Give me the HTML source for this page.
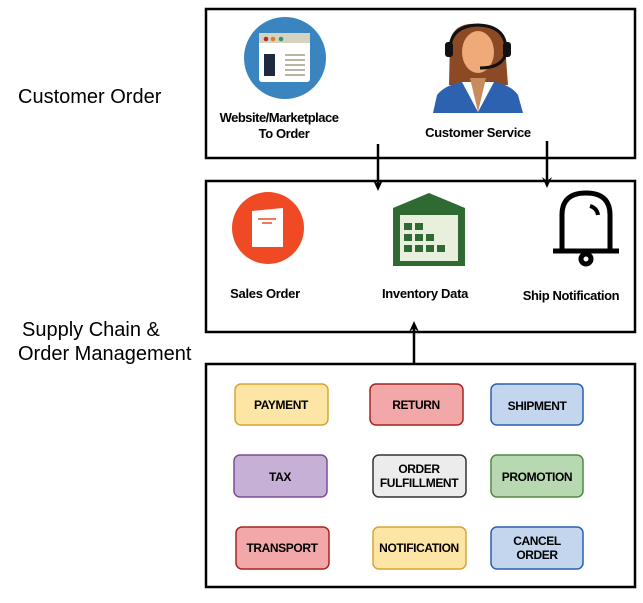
<!DOCTYPE html>
<html><head><style>
body{margin:0;background:#fff;width:643px;height:598px;overflow:hidden}
svg text{font-family:"Liberation Sans",sans-serif}
</style></head><body>
<svg width="643" height="598" viewBox="0 0 643 598" xmlns="http://www.w3.org/2000/svg">
<g fill="none" stroke="#000" stroke-width="2.5">
<rect x="206" y="9" width="429" height="149"/>
<rect x="206" y="181" width="429" height="151"/>
<rect x="206" y="364" width="429" height="223"/>
</g>
<g stroke="#000" stroke-width="2.5">
<line x1="378" y1="144" x2="378" y2="188"/>
<line x1="547" y1="141" x2="547" y2="185"/>
<line x1="414" y1="364" x2="414" y2="324"/>
</g>
<path d="M373,180 L378,191 L383,180 L378,184Z M542,177 L547,188 L552,177 L547,181Z M409,332 L414,321 L419,332 L414,328Z"/>
<text x="18" y="103" font-size="20">Customer Order</text>
<text x="22" y="336" font-size="20">Supply Chain &amp;</text>
<text x="18" y="360" font-size="20">Order Management</text>
<circle cx="285" cy="58" r="41" fill="#3a85bf"/>
<rect x="259" y="33" width="51" height="49" rx="3" fill="#fff"/>
<rect x="259" y="33" width="51" height="10" fill="#d6d2c0"/>
<circle cx="266" cy="39" r="2.3" fill="#b32b2b"/><circle cx="273" cy="39" r="2.3" fill="#e07b2b"/><circle cx="281" cy="39" r="2.3" fill="#2b9a76"/>
<rect x="264" y="54" width="11" height="22" fill="#1d2a3f"/>
<g stroke="#b8b5a2" stroke-width="2"><line x1="285" y1="55" x2="305" y2="55"/><line x1="285" y1="60" x2="305" y2="60"/><line x1="285" y1="65" x2="305" y2="65"/><line x1="285" y1="70" x2="305" y2="70"/><line x1="285" y1="75" x2="305" y2="75"/></g>
<path d="M450,40 Q455,22 478,24 Q502,24 505,45 L508,85 L449,85 Z" fill="#8b4a23"/>
<ellipse cx="478" cy="52" rx="16" ry="21" fill="#f0aa7a"/>
<path d="M433,113 L437,95 Q445,85 462,82 L478,110 L494,82 Q511,85 518,95 L523,113 Z" fill="#2d62b0"/>
<path d="M462,82 L478,112 L494,82 Z" fill="#fff"/>
<path d="M470,78 L478,112 L486,78 Z" fill="#c98a5c"/>
<path d="M450,50 Q450,26 478,25 Q506,26 506,50" fill="none" stroke="#111" stroke-width="3"/>
<rect x="445" y="42" width="8" height="15" rx="3" fill="#111"/><rect x="503" y="42" width="8" height="15" rx="3" fill="#111"/>
<path d="M505,56 Q500,68 480,68" fill="none" stroke="#111" stroke-width="3"/>
<text x="279" y="122" font-size="13" font-weight="bold" text-anchor="middle" letter-spacing="-0.5">Website/Marketplace</text>
<text x="284" y="138" font-size="13" font-weight="bold" text-anchor="middle" letter-spacing="-0.4">To Order</text>
<text x="478" y="137" font-size="13" font-weight="bold" text-anchor="middle" letter-spacing="-0.3">Customer Service</text>
<circle cx="268" cy="228" r="36" fill="#ef4a23"/>
<path d="M252,211 L283,208 L283,247 L252,247 Z" fill="#fff"/>
<line x1="258" y1="219" x2="276" y2="219" stroke="#ef4a23" stroke-width="1.5"/><line x1="262" y1="223" x2="272" y2="223" stroke="#ef4a23" stroke-width="1.5"/>
<path d="M393,208 L429,193 L465,208 L465,266 L393,266 Z" fill="#2f6a32"/>
<rect x="400" y="215" width="58" height="46" fill="#e8efdc"/>
<g fill="#2f6a32">
<rect x="404" y="223" width="8" height="7"/><rect x="415" y="223" width="8" height="7"/>
<rect x="404" y="234" width="8" height="7"/><rect x="415" y="234" width="8" height="7"/><rect x="426" y="234" width="8" height="7"/>
<rect x="404" y="245" width="8" height="7"/><rect x="415" y="245" width="8" height="7"/><rect x="426" y="245" width="8" height="7"/><rect x="437" y="245" width="8" height="7"/>
</g>
<g fill="none" stroke="#000" stroke-width="5">
<path d="M562,250 L562,215 Q562,193 586,193 Q610,193 610,215 L610,250"/>
<line x1="553" y1="251" x2="619" y2="251"/>
<circle cx="586" cy="259" r="5"/>
<path d="M590,206 Q597,208 598,215" stroke-width="4"/>
</g>
<text x="265" y="298" font-size="13" font-weight="bold" text-anchor="middle" letter-spacing="-0.3">Sales Order</text>
<text x="425" y="298" font-size="13" font-weight="bold" text-anchor="middle" letter-spacing="-0.3">Inventory Data</text>
<text x="571" y="300" font-size="13" font-weight="bold" text-anchor="middle" letter-spacing="-0.4">Ship Notification</text>
<g stroke-width="1.5">
<rect x="235" y="384" width="93" height="41" rx="6" fill="#fde6a5" stroke="#d6a530"/>
<rect x="370" y="384" width="93" height="41" rx="6" fill="#f2a8a8" stroke="#a82323"/>
<rect x="491" y="384" width="92" height="41" rx="6" fill="#c3d6ee" stroke="#2d5fb0"/>
<rect x="234" y="455" width="93" height="42" rx="6" fill="#c7b0d6" stroke="#7a4e99"/>
<rect x="373" y="455" width="93" height="42" rx="6" fill="#ececec" stroke="#333"/>
<rect x="491" y="455" width="92" height="42" rx="6" fill="#b7d8b0" stroke="#4e8a43"/>
<rect x="236" y="527" width="93" height="42" rx="6" fill="#f2a8a8" stroke="#a82323"/>
<rect x="373" y="527" width="93" height="42" rx="6" fill="#fde6a5" stroke="#d6a530"/>
<rect x="491" y="527" width="92" height="42" rx="6" fill="#c3d6ee" stroke="#2d5fb0"/>
</g>
<g font-size="12" font-weight="bold" text-anchor="middle" letter-spacing="-0.4">
<text x="281" y="409">PAYMENT</text>
<text x="416" y="409">RETURN</text>
<text x="537" y="410">SHIPMENT</text>
<text x="280" y="481">TAX</text>
<text x="419" y="473">ORDER</text>
<text x="419" y="487">FULFILLMENT</text>
<text x="537" y="481">PROMOTION</text>
<text x="282" y="552">TRANSPORT</text>
<text x="419" y="552">NOTIFICATION</text>
<text x="537" y="545">CANCEL</text>
<text x="537" y="559">ORDER</text>
</g>
</svg>
</body></html>
